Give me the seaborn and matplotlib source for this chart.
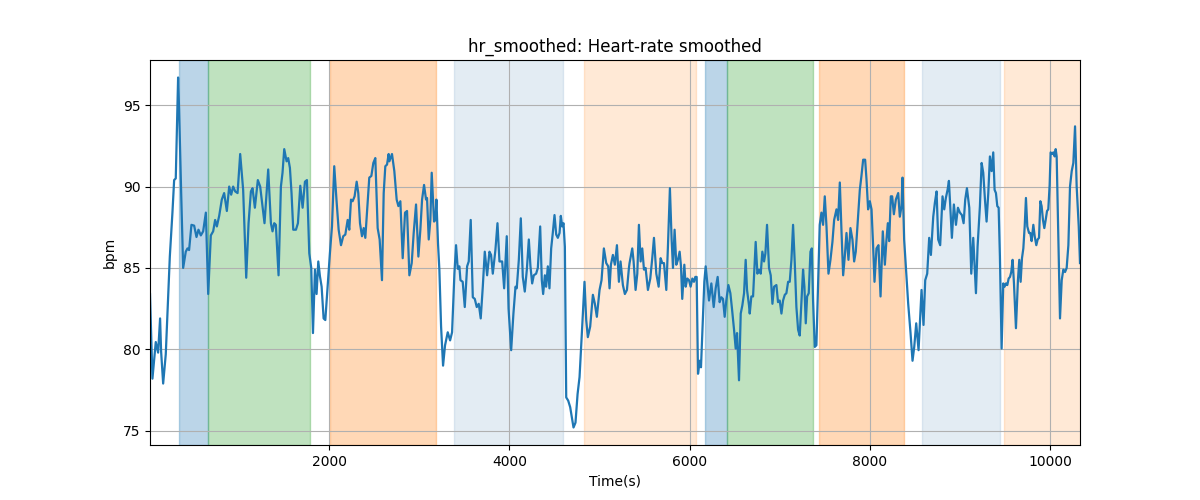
import numpy as np
import pandas as pd
import matplotlib
matplotlib.use("Agg")
import matplotlib.pyplot as plt
import seaborn as sns

# smoothed heart rate
time_s = [
    10, 37, 74, 100, 122, 133, 156, 185, 230, 259, 278, 296, 322, 333, 356, 378,
    407, 426, 444, 470, 500, 526, 548, 574, 600, 630, 656, 685, 711, 733, 752, 778,
    807, 833, 863, 889, 911, 933, 956, 982, 1011, 1044, 1078, 1104, 1130, 1148, 1174, 1207,
    1233, 1259, 1281, 1322, 1352, 1370, 1389, 1407, 1437, 1463, 1481, 1500, 1526, 1544, 1563, 1581,
    1600, 1630, 1652, 1678, 1704, 1730, 1752, 1778, 1800, 1819, 1841, 1859, 1878, 1896, 1915, 1937,
    1956, 1981, 2007, 2030, 2055, 2081, 2104, 2130, 2155, 2178, 2204, 2222, 2241, 2259, 2281, 2304,
    2322, 2341, 2363, 2382, 2400, 2426, 2444, 2467, 2489, 2511, 2537, 2559, 2585, 2604, 2622, 2641,
    2659, 2667, 2696, 2722, 2748, 2767, 2789, 2815, 2841, 2863, 2889, 2915, 2937, 2963, 2989, 3011,
    3030, 3052, 3074, 3085, 3104, 3122, 3137, 3163, 3178, 3189, 3207, 3222, 3241, 3263, 3285, 3315,
    3341, 3363, 3389, 3407, 3426, 3444, 3456, 3481, 3504, 3530, 3548, 3570, 3593, 3615, 3637, 3659,
    3681, 3704, 3726, 3752, 3778, 3796, 3815, 3844, 3867, 3889, 3919, 3941, 3970, 3990, 4019, 4044,
    4067, 4081, 4104, 4126, 4148, 4170, 4193, 4215, 4233, 4252, 4270, 4296, 4315, 4341, 4359, 4374,
    4393, 4407, 4426, 4444, 4463, 4481, 4500, 4519, 4537, 4556, 4570, 4585, 4600, 4615, 4630, 4652,
    4674, 4696, 4711, 4733, 4756, 4778, 4796, 4815, 4833, 4852, 4870, 4896, 4926, 4948, 4970, 5000,
    5022, 5048, 5074, 5096, 5111, 5126, 5148, 5170, 5193, 5215, 5233, 5259, 5281, 5304, 5326, 5333,
    5363, 5378, 5400, 5419, 5437, 5456, 5474, 5493, 5511, 5537, 5563, 5585, 5604, 5630, 5656, 5678,
    5696, 5715, 5741, 5759, 5781, 5800, 5815, 5833, 5852, 5870, 5889, 5904, 5918, 5941, 5956, 5974,
    5993, 6011, 6030, 6048, 6063, 6078, 6093, 6111, 6126, 6144, 6163, 6178, 6193, 6215, 6241, 6267,
    6289, 6311, 6333, 6352, 6370, 6389, 6407, 6430, 6452, 6470, 6493, 6511, 6526, 6548, 6567, 6585,
    6604, 6622, 6637, 6659, 6667, 6685, 6704, 6733, 6752, 6770, 6789, 6807, 6826, 6841, 6859, 6881,
    6900, 6919, 6937, 6963, 6981, 7000, 7019, 7037, 7056, 7074, 7093, 7111, 7130, 7148, 7167, 7185,
    7204, 7222, 7241, 7259, 7274, 7289, 7304, 7322, 7341, 7356, 7370, 7389, 7407, 7426, 7444, 7463,
    7481, 7500, 7519, 7541, 7563, 7585, 7604, 7630, 7648, 7667, 7685, 7704, 7722, 7741, 7763, 7785,
    7807, 7826, 7844, 7867, 7889, 7907, 7926, 7948, 7963, 7981, 8000, 8019, 8037, 8052, 8074, 8096,
    8119, 8144, 8167, 8185, 8200, 8215, 8233, 8248, 8267, 8289, 8315, 8333, 8352, 8363, 8381, 8400,
    8426, 8452, 8474, 8493, 8515, 8541, 8556, 8574, 8596, 8615, 8637, 8659, 8678, 8704, 8722, 8741,
    8759, 8781, 8807, 8826, 8844, 8863, 8878, 8893, 8911, 8933, 8956, 8978, 9000, 9022, 9041, 9059,
    9078, 9104, 9126, 9148, 9178, 9196, 9222, 9241, 9259, 9278, 9296, 9315, 9333, 9352, 9370, 9385,
    9400, 9415, 9430, 9444, 9463, 9481, 9496, 9511, 9526, 9541, 9556, 9570, 9585, 9600, 9622, 9644,
    9659, 9674, 9689, 9704, 9719, 9733, 9748, 9767, 9781, 9796, 9815, 9830, 9848, 9863, 9878, 9893,
    9907, 9922, 9937, 9952, 9967, 9981, 9996, 10007, 10022, 10037, 10052, 10063, 10074, 10093, 10111, 10130,
    10148, 10167, 10185, 10204, 10222, 10241, 10259, 10278, 10296, 10319, 10333,
]
hr_bpm = [
    83.4, 78.2, 80.45, 79.8, 81.9, 79.9, 77.9, 79.7, 85.7, 88.4, 90.4, 90.5, 96.7, 94.75, 89.6, 85.0,
    86.0, 86.2, 86.1, 87.65, 87.6, 86.9, 87.35, 87.0, 87.25, 88.4, 83.4, 87.0, 87.25, 87.95, 87.55, 88.2,
    89.2, 89.6, 88.5, 90.0, 89.5, 90.0, 89.7, 89.6, 92.0, 89.8, 84.4, 87.75, 89.7, 89.9, 88.7, 90.4,
    90.0, 88.8, 87.75, 91.05, 87.75, 87.25, 87.75, 87.65, 84.55, 90.0, 90.85, 92.3, 91.55, 91.75, 91.15, 89.6,
    87.35, 87.35, 87.75, 90.05, 88.7, 90.3, 90.4, 85.9, 85.0, 81.0, 84.9, 83.4, 85.4, 84.5, 83.85, 81.9,
    81.8, 83.85, 85.9, 87.55, 91.25, 89.1, 87.35, 86.4, 86.95, 87.05, 87.95, 87.35, 89.2, 89.1, 89.4, 90.3,
    89.6, 87.75, 86.95, 87.45, 86.85, 89.0, 90.55, 90.65, 91.45, 91.75, 87.45, 86.75, 84.25, 89.6, 91.25, 91.35,
    92.0, 91.55, 92.0, 90.95, 89.2, 88.8, 89.1, 85.6, 88.4, 88.5, 84.55, 85.3, 87.15, 88.9, 85.7, 87.35,
    89.2, 90.1, 89.2, 89.3, 86.75, 87.95, 90.85, 87.85, 87.95, 89.2, 86.5, 84.9, 81.4, 79.0, 80.25, 81.05,
    80.55, 81.05, 84.65, 86.4, 84.95, 85.1, 84.25, 84.15, 82.6, 85.1, 85.4, 87.95, 83.2, 83.1, 82.6, 82.8,
    81.9, 83.85, 86.0, 84.55, 86.0, 85.8, 84.65, 86.1, 87.75, 85.4, 85.4, 83.75, 86.95, 82.5, 79.95, 82.2,
    83.85, 83.75, 85.5, 88.05, 84.45, 83.55, 84.9, 86.75, 85.1, 84.05, 84.55, 84.65, 85.0, 87.55, 84.25, 83.4,
    84.55, 83.85, 85.1, 83.75, 86.2, 87.15, 88.25, 87.05, 86.85, 87.15, 88.2, 87.55, 87.75, 86.3, 77.05, 76.85,
    76.45, 75.7, 75.2, 75.5, 77.25, 78.3, 80.15, 82.2, 84.15, 81.8, 80.75, 81.4, 83.35, 82.8, 82.0, 83.65,
    84.25, 86.2, 85.3, 85.1, 83.75, 85.2, 85.8, 85.2, 86.4, 84.15, 85.4, 83.95, 83.4, 83.65, 85.0, 85.3,
    86.2, 85.4, 83.65, 84.65, 87.65, 85.4, 86.2, 84.9, 85.0, 83.65, 84.35, 85.6, 86.85, 84.65, 83.85, 85.6,
    85.3, 85.3, 83.65, 86.3, 89.9, 86.75, 85.0, 87.35, 85.2, 85.5, 86.0, 85.1, 83.1, 85.2, 83.85, 84.35,
    84.25, 83.85, 84.35, 84.15, 84.45, 84.45, 78.5, 79.3, 78.9, 81.4, 84.15, 85.1, 84.25, 83.0, 84.05, 82.6,
    83.75, 84.45, 82.9, 83.2, 83.1, 82.0, 83.0, 83.95, 83.45, 82.5, 81.2, 80.05, 81.0, 78.1, 82.2, 82.7,
    83.45, 85.5, 83.65, 82.7, 82.2, 83.25, 83.25, 86.6, 84.65, 84.9, 84.65, 86.0, 85.4, 85.9, 87.65, 85.0,
    84.55, 82.8, 83.85, 83.95, 82.9, 83.0, 82.2, 83.0, 83.35, 83.45, 84.15, 84.15, 85.5, 87.65, 85.3, 82.6,
    81.2, 80.85, 83.0, 84.9, 83.85, 81.6, 83.25, 83.45, 86.0, 86.2, 83.0, 80.15, 80.25, 84.15, 87.65, 88.4,
    87.65, 89.4, 87.55, 84.65, 85.5, 86.6, 87.95, 88.6, 87.95, 90.25, 87.35, 84.55, 85.7, 87.15, 85.5, 87.45,
    86.75, 85.4, 86.0, 87.95, 89.8, 90.65, 91.65, 91.65, 90.45, 88.6, 89.1, 88.6, 86.3, 84.15, 86.2, 86.4,
    83.25, 87.25, 85.2, 86.75, 87.75, 86.65, 89.4, 89.4, 88.3, 89.2, 89.6, 88.15, 88.8, 90.55, 86.75, 85.1,
    82.8, 81.0, 79.3, 80.15, 81.6, 79.95, 81.6, 83.65, 81.5, 84.25, 84.65, 86.85, 85.8, 88.15, 89.0, 89.7,
    86.75, 86.4, 89.4, 88.6, 89.3, 89.8, 90.35, 88.7, 86.85, 88.9, 87.65, 88.7, 88.4, 88.25, 87.75, 89.2,
    89.9, 88.7, 84.65, 86.85, 83.45, 86.3, 88.8, 91.45, 90.85, 89.2, 87.85, 89.6, 91.85, 90.95, 92.1, 89.8,
    89.6, 88.8, 88.7, 85.7, 80.05, 84.05, 83.85, 84.05, 83.95, 84.35, 84.45, 84.75, 85.5, 84.05, 81.3, 84.25,
    85.5, 84.15, 85.6, 86.2, 87.55, 89.3, 87.55, 87.15, 87.15, 86.65, 87.65, 86.95, 86.4, 86.75, 86.85, 89.1,
    88.8, 87.95, 87.45, 87.95, 88.5, 88.6, 90.1, 92.1, 92.0, 92.1, 91.85, 92.3, 91.85, 86.75, 81.9, 84.25,
    84.9, 84.75, 85.0, 86.4, 90.0, 90.95, 91.45, 93.7, 90.0, 87.55, 85.3,
]

# shaded phases (start / end in seconds)
phase_start = [333, 659, 2003, 3381, 4822, 6167, 6414, 7433, 8578, 9489]
phase_end = [659, 1786, 3186, 4597, 6074, 6414, 7374, 8374, 9441, 10500]
phase_kind = ["a", "b", "c", "d", "e", "a", "b", "c", "d", "e"]

phase_style = {
    "a": ("tab:blue", 0.3),
    "b": ("tab:green", 0.3),
    "c": ("tab:orange", 0.3),
    "d": ("steelblue", 0.15),
    "e": ("tab:orange", 0.17),
}

df = pd.DataFrame({"time": time_s, "hr": hr_bpm})

fig, ax = plt.subplots(figsize=(12, 5), dpi=100)

for s, e, k in zip(phase_start, phase_end, phase_kind):
    c, a = phase_style[k]
    ax.axvspan(s, e, color=c, alpha=a)

sns.lineplot(data=df, x="time", y="hr", ax=ax, color="tab:blue", linewidth=1.6)

ax.set_xlim(df["time"].min(), df["time"].max())
ax.grid(True)
ax.set_title("hr_smoothed: Heart-rate smoothed")
ax.set_xlabel("Time(s)")
ax.set_ylabel("bpm")

plt.savefig("out.png", dpi=100)
